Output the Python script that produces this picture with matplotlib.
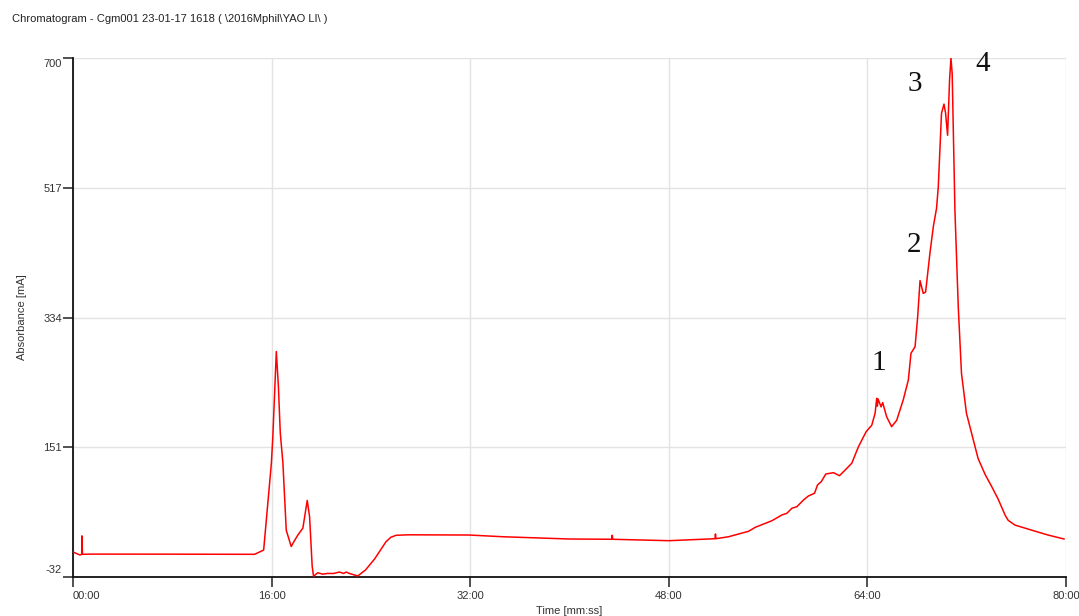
"""Chromatogram trace (absorbance vs. retention time) with numbered peaks."""

import matplotlib

matplotlib.use("Agg")
import matplotlib.pyplot as plt
import matplotlib.transforms as mtransforms
from matplotlib.ticker import FixedLocator, FuncFormatter

# Retention time (minutes) and absorbance (mA)
time_min = [
    0, 0.56, 0.70, 0.72, 0.76, 1.5, 8, 14.63, 15.36, 15.98, 16.10, 16.38,
    16.55, 16.62, 16.70, 16.91, 17.18, 17.58, 17.8, 18.11, 18.52, 18.87,
    19.06, 19.27, 19.38, 19.72, 20.12, 20.5, 21.0, 21.47, 21.8, 22.0,
    22.27, 22.94, 23.57, 24.28, 24.95, 25.22, 25.6, 26.03, 27.0,
    31.92, 34.60, 39.96, 43.40, 43.44, 43.48, 48.0, 51.72, 51.76, 51.80,
    52.82, 54.43, 54.97, 56.31, 57.11, 57.51, 57.91, 58.32, 58.85, 59.25,
    59.74, 59.98, 60.28, 60.65, 61.27, 61.75, 62.21, 62.74, 63.28, 63.90,
    64.35, 64.62, 64.75, 64.80, 64.86, 65.10, 65.23, 65.55, 65.95, 66.36,
    66.89, 67.30, 67.51, 67.84, 68.05, 68.24, 68.50, 68.69, 69.04, 69.31,
    69.57, 69.71, 69.97, 70.17, 70.30, 70.46, 70.62, 70.73, 70.83, 71.05,
    71.32, 71.58, 71.98, 72.39, 72.92, 73.5, 74.0, 74.53, 75.10, 75.34,
    75.88, 77.19, 78.55, 79.84,
]
absorbance = [
    3.3, -1.0, 0, 26, 0, 0.3, 0.2, 0, 6, 128, 166, 286,
    236, 205, 171, 129, 34, 11, 18, 27, 37, 76,
    53, -17, -31, -26, -28, -27, -27, -25, -27, -25,
    -27, -30.6, -22, -7, 10.7, 17.8, 24, 26.8, 27.5,
    27.2, 24.8, 21.6, 21.2, 26.8, 21.2, 19.2, 22.0, 28.7, 22.0,
    24.8, 32.5, 38.1, 47.4, 55.5, 57.8, 64.9, 67.2, 76.6, 82.3,
    86.1, 97.8, 102.4, 113.3, 115.1, 110.9, 118.9, 128.4, 151.8, 173,
    182, 199, 220, 209, 219, 208, 214, 194, 180, 189,
    218, 246, 283.5, 292.8, 335, 386, 368, 370, 425, 462,
    488, 518, 622, 635, 622, 591, 669, 700, 678, 486,
    349, 255, 199, 171, 135, 112, 96, 78, 55, 48,
    41.3, 34.3, 27.2, 21.6,
]

x_ticks = [0, 16, 32, 48, 64, 80]
y_ticks = [-32, 151, 334, 517, 700]

peak_labels = ["1", "2", "3", "4"]
peak_x = [64.88, 67.78, 67.78, 73.25]
peak_y = [270, 436, 664, 692]

TEXT = "#333333"

fig = plt.figure(figsize=(10.79, 6.16), dpi=100)
fig.patch.set_facecolor("white")
ax = fig.add_axes([73 / 1079, 1 - 577 / 616, (1066 - 73) / 1079, (577 - 58) / 616])

ax.plot(time_min, absorbance, color="#ff0000", linewidth=1.1, zorder=3)

ax.set_xlim(0, 80)
ax.set_ylim(-32, 700)
ax.xaxis.set_major_locator(FixedLocator(x_ticks))
ax.yaxis.set_major_locator(FixedLocator(y_ticks))
ax.xaxis.set_major_formatter(FuncFormatter(lambda v, pos: f"{int(round(v)):02d}:00"))
ax.yaxis.set_major_formatter(FuncFormatter(lambda v, pos: f"{int(round(v))}"))

# Grid (light, behind data)
ax.grid(True, color="#e3e3e3", linewidth=1.0, zorder=0)
ax.set_axisbelow(True)

for side in ("top", "right"):
    ax.spines[side].set_visible(False)
for side in ("left", "bottom"):
    ax.spines[side].set_linewidth(1.3)
    ax.spines[side].set_color("#111111")

ax.tick_params(axis="both", direction="out", length=7, width=1.2, color="#333333",
               labelsize=8, labelcolor=TEXT)
ax.tick_params(axis="y", pad=1)
ax.tick_params(axis="x", pad=3)

for lbl in ax.get_xticklabels() + ax.get_yticklabels():
    lbl.set_family("Liberation Sans")

# Edge labels are nudged inside the axis range, as in the source software
fig.canvas.draw()
ylabels = ax.get_yticklabels()
ylabels[0].set_transform(ylabels[0].get_transform()
                         + mtransforms.ScaledTranslation(0, 8 / 100, fig.dpi_scale_trans))
ylabels[-1].set_transform(ylabels[-1].get_transform()
                          + mtransforms.ScaledTranslation(0, -5 / 100, fig.dpi_scale_trans))
ax.get_xticklabels()[0].set_horizontalalignment("left")

ax.set_xlabel("Time [mm:ss]", fontsize=8, color=TEXT, family="Liberation Sans", labelpad=4)
ax.set_ylabel("Absorbance [mA]", fontsize=8, color=TEXT, family="Liberation Sans", labelpad=12)

for lab, px, py in zip(peak_labels, peak_x, peak_y):
    ax.text(px, py, lab, fontsize=21, family="Liberation Serif", color="#111111",
            ha="center", va="center")

fig.text(12 / 1079, 1 - 19 / 616,
         "Chromatogram - Cgm001 23-01-17 1618 ( \\2016Mphil\\YAO LI\\ )",
         fontsize=8, color="#222222", family="Liberation Sans", ha="left", va="center")

fig.savefig("out.png", dpi=100)
